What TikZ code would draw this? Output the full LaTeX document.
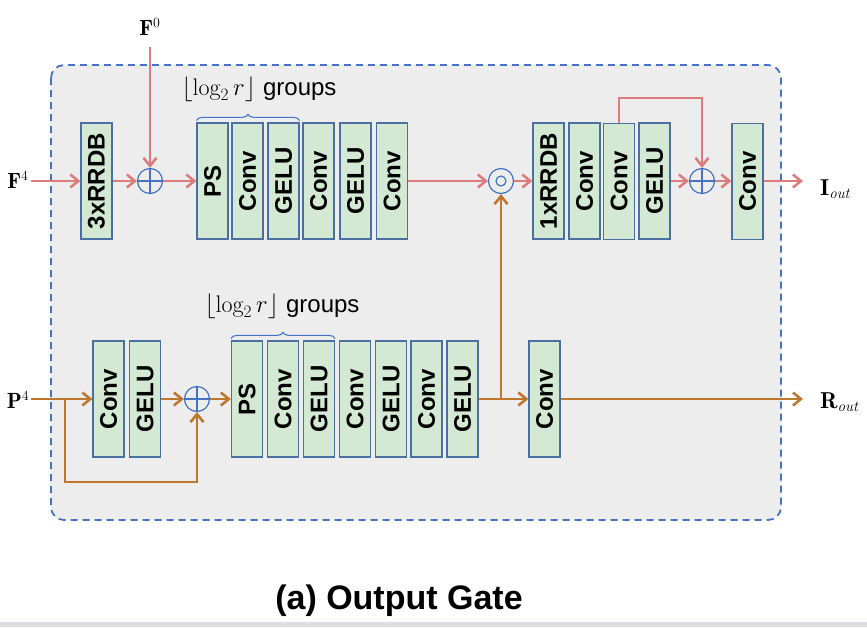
\documentclass[tikz,border=0pt]{standalone}
\usepackage{fontspec}
\setsansfont{Liberation Sans}
\usetikzlibrary{arrows.meta,decorations.pathreplacing,calc}
\definecolor{redc}{HTML}{DC7C7C}
\definecolor{orc}{HTML}{BD772F}
\definecolor{bluec}{HTML}{4472C4}
\definecolor{boxb}{HTML}{4A6FA0}
\definecolor{boxf}{HTML}{D3E9D3}
\definecolor{bgc}{HTML}{EDEDED}
\definecolor{barc}{HTML}{DCDCE2}
\newcommand{\supsz}[1]{\mbox{\fontsize{14}{14}\selectfont #1}}
\newcommand{\subsz}[1]{\mbox{\fontsize{15}{15}\selectfont\itshape #1}}
\begin{document}
\begin{tikzpicture}[x=1pt,y=-1pt,
  blk/.style={draw=boxb, fill=boxf, line width=1.2pt, minimum width=31pt, minimum height=116pt, inner sep=0pt, font=\sffamily\bfseries\fontsize{24}{24}\selectfont},
  circ/.style={circle, draw=bluec, line width=1.2pt, minimum size=25pt, inner sep=0pt, fill=bgc},
  tip/.style={-{Straight Barb[length=8pt,width=13pt]}},
  rline/.style={draw=redc, line width=2.6pt},
  oline/.style={draw=orc, line width=2.6pt},
  lab/.style={font=\fontsize{22}{22}\selectfont, inner sep=2pt},
  olab/.style={font=\fontsize{23}{23}\selectfont, inner sep=2pt},
  grp/.style={font=\fontsize{24}{24}\selectfont, inner sep=0pt},
  brc/.style={draw=bluec, line width=1.1pt, decorate, decoration={brace, amplitude=6pt}},
]
\useasboundingbox (0,0) rectangle (867,627);
\fill[barc] (0,622) rectangle (867,627);
\draw[bluec, fill=bgc, line width=1.8pt, dash pattern=on 7pt off 5pt, rounded corners=13pt] (51,65) rectangle (781,520);

% top row
\node[blk] (rr3) at (96.5,181) {\rotatebox{90}{3xRRDB}};
\node[circ] (plus1) at (150,181) {};
\node[blk] (ps1) at (212.5,181) {\rotatebox{90}{PS}};
\node[blk] (c1) at (247.5,181) {\rotatebox{90}{Conv}};
\node[blk] (g1) at (283.5,181) {\rotatebox{90}{GELU}};
\node[blk] (c2) at (318.5,181) {\rotatebox{90}{Conv}};
\node[blk] (g2) at (355.5,181) {\rotatebox{90}{GELU}};
\node[blk] (c3) at (392,181) {\rotatebox{90}{Conv}};
\node[circ] (odot) at (501,181) {};
\node[blk] (rr1) at (548.5,181) {\rotatebox{90}{1xRRDB}};
\node[blk] (c4) at (584.5,181) {\rotatebox{90}{Conv}};
\node[blk] (c5) at (619,181.5) {\rotatebox{90}{Conv}};
\node[blk] (g3) at (654.5,181) {\rotatebox{90}{GELU}};
\node[circ] (plus2) at (702,181) {};
\node[blk] (c6) at (747.5,181.5) {\rotatebox{90}{Conv}};

% bottom row
\node[blk] (bc1) at (108.5,399) {\rotatebox{90}{Conv}};
\node[blk] (bg1) at (145,399) {\rotatebox{90}{GELU}};
\node[circ] (plus3) at (197,399) {};
\node[blk] (bp) at (247,399) {\rotatebox{90}{PS}};
\node[blk] (bc2) at (283,399) {\rotatebox{90}{Conv}};
\node[blk] (bg2) at (319,399) {\rotatebox{90}{GELU}};
\node[blk] (bc3) at (355,399) {\rotatebox{90}{Conv}};
\node[blk] (bg3) at (391,399) {\rotatebox{90}{GELU}};
\node[blk] (bc4) at (426.5,399) {\rotatebox{90}{Conv}};
\node[blk] (bg4) at (462.5,399) {\rotatebox{90}{GELU}};
\node[blk] (bc5) at (544.5,399) {\rotatebox{90}{Conv}};

% circle symbols
\foreach \p in {plus1,plus2,plus3}{
  \draw[bluec, line width=1.2pt] (\p.north) -- (\p.south) (\p.west) -- (\p.east);
}
\draw[bluec, line width=1.2pt] (odot) circle (5pt);

% labels
\node[lab, anchor=base] (F4) at (18,188) {$\mathbf{F}^{\supsz{4}}$};
\node[lab, anchor=base] (F0) at (150,35) {$\mathbf{F}^{\supsz{0}}$};
\node[lab, anchor=base] (P4) at (18,408) {$\mathbf{P}^{\supsz{4}}$};
\node[olab, anchor=base west] (Iout) at (818,195) {$\mathbf{I}_{\subsz{out}}$};
\node[olab, anchor=base west] (Rout) at (818,408) {$\mathbf{R}_{\subsz{out}}$};
\node[grp, anchor=base] (gtop) at (259,95) {$\lfloor\log_2 r\rfloor$ \sffamily groups};
\node[grp, anchor=base] (gbot) at (282,312) {$\lfloor\log_2 r\rfloor$ \sffamily groups};
\node[font=\sffamily\bfseries\fontsize{34}{34}\selectfont, anchor=base, inner sep=0pt] (title) at (399,609) {(a) Output Gate};

% braces
\draw[brc] ([yshift=2pt]ps1.north west) -- ([yshift=2pt]g1.north east);
\draw[brc] ([yshift=2pt]bp.north west) -- ([yshift=2pt]bg2.north east);

% top connectors
\draw[rline,tip] (F4.east |- rr3.west) -- (rr3.west);
\draw[rline,tip] (rr3) -- (plus1);
\draw[rline,tip,shorten <=10pt] (F0.south -| plus1.north) -- (plus1.north);
\draw[rline,tip] (plus1) -- (ps1);
\draw[rline,tip] (c3) -- (odot);
\draw[rline,tip] (odot) -- (rr1);
\draw[rline,tip] (c5.north) -- ++(0,-25) -| (plus2.north);
\draw[rline,tip] (g3) -- (plus2);
\draw[rline,tip] (plus2) -- (c6.west |- plus2);
\draw[rline,tip,shorten >=15pt] (c6.east |- plus2) -- (Iout.west |- plus2);

% bottom connectors
\coordinate (br) at (65,399);
\coordinate (jn) at (501,399);
\draw[oline,tip] (P4.east |- bc1.west) -- (bc1.west);
\draw[oline,tip] (br) -- ++(0,83) -| (plus3.south);
\draw[oline,tip] (bg1) -- (plus3);
\draw[oline,tip] (plus3) -- (bp);
\draw[oline] (bg4.east) -- (jn);
\draw[oline,tip] (jn) -- (bc5.west);
\draw[oline,tip] (jn) -- (odot.south);
\draw[oline,tip,shorten >=15pt] (bc5.east) -- (Rout.west |- bc5.east);
\end{tikzpicture}
\end{document}
